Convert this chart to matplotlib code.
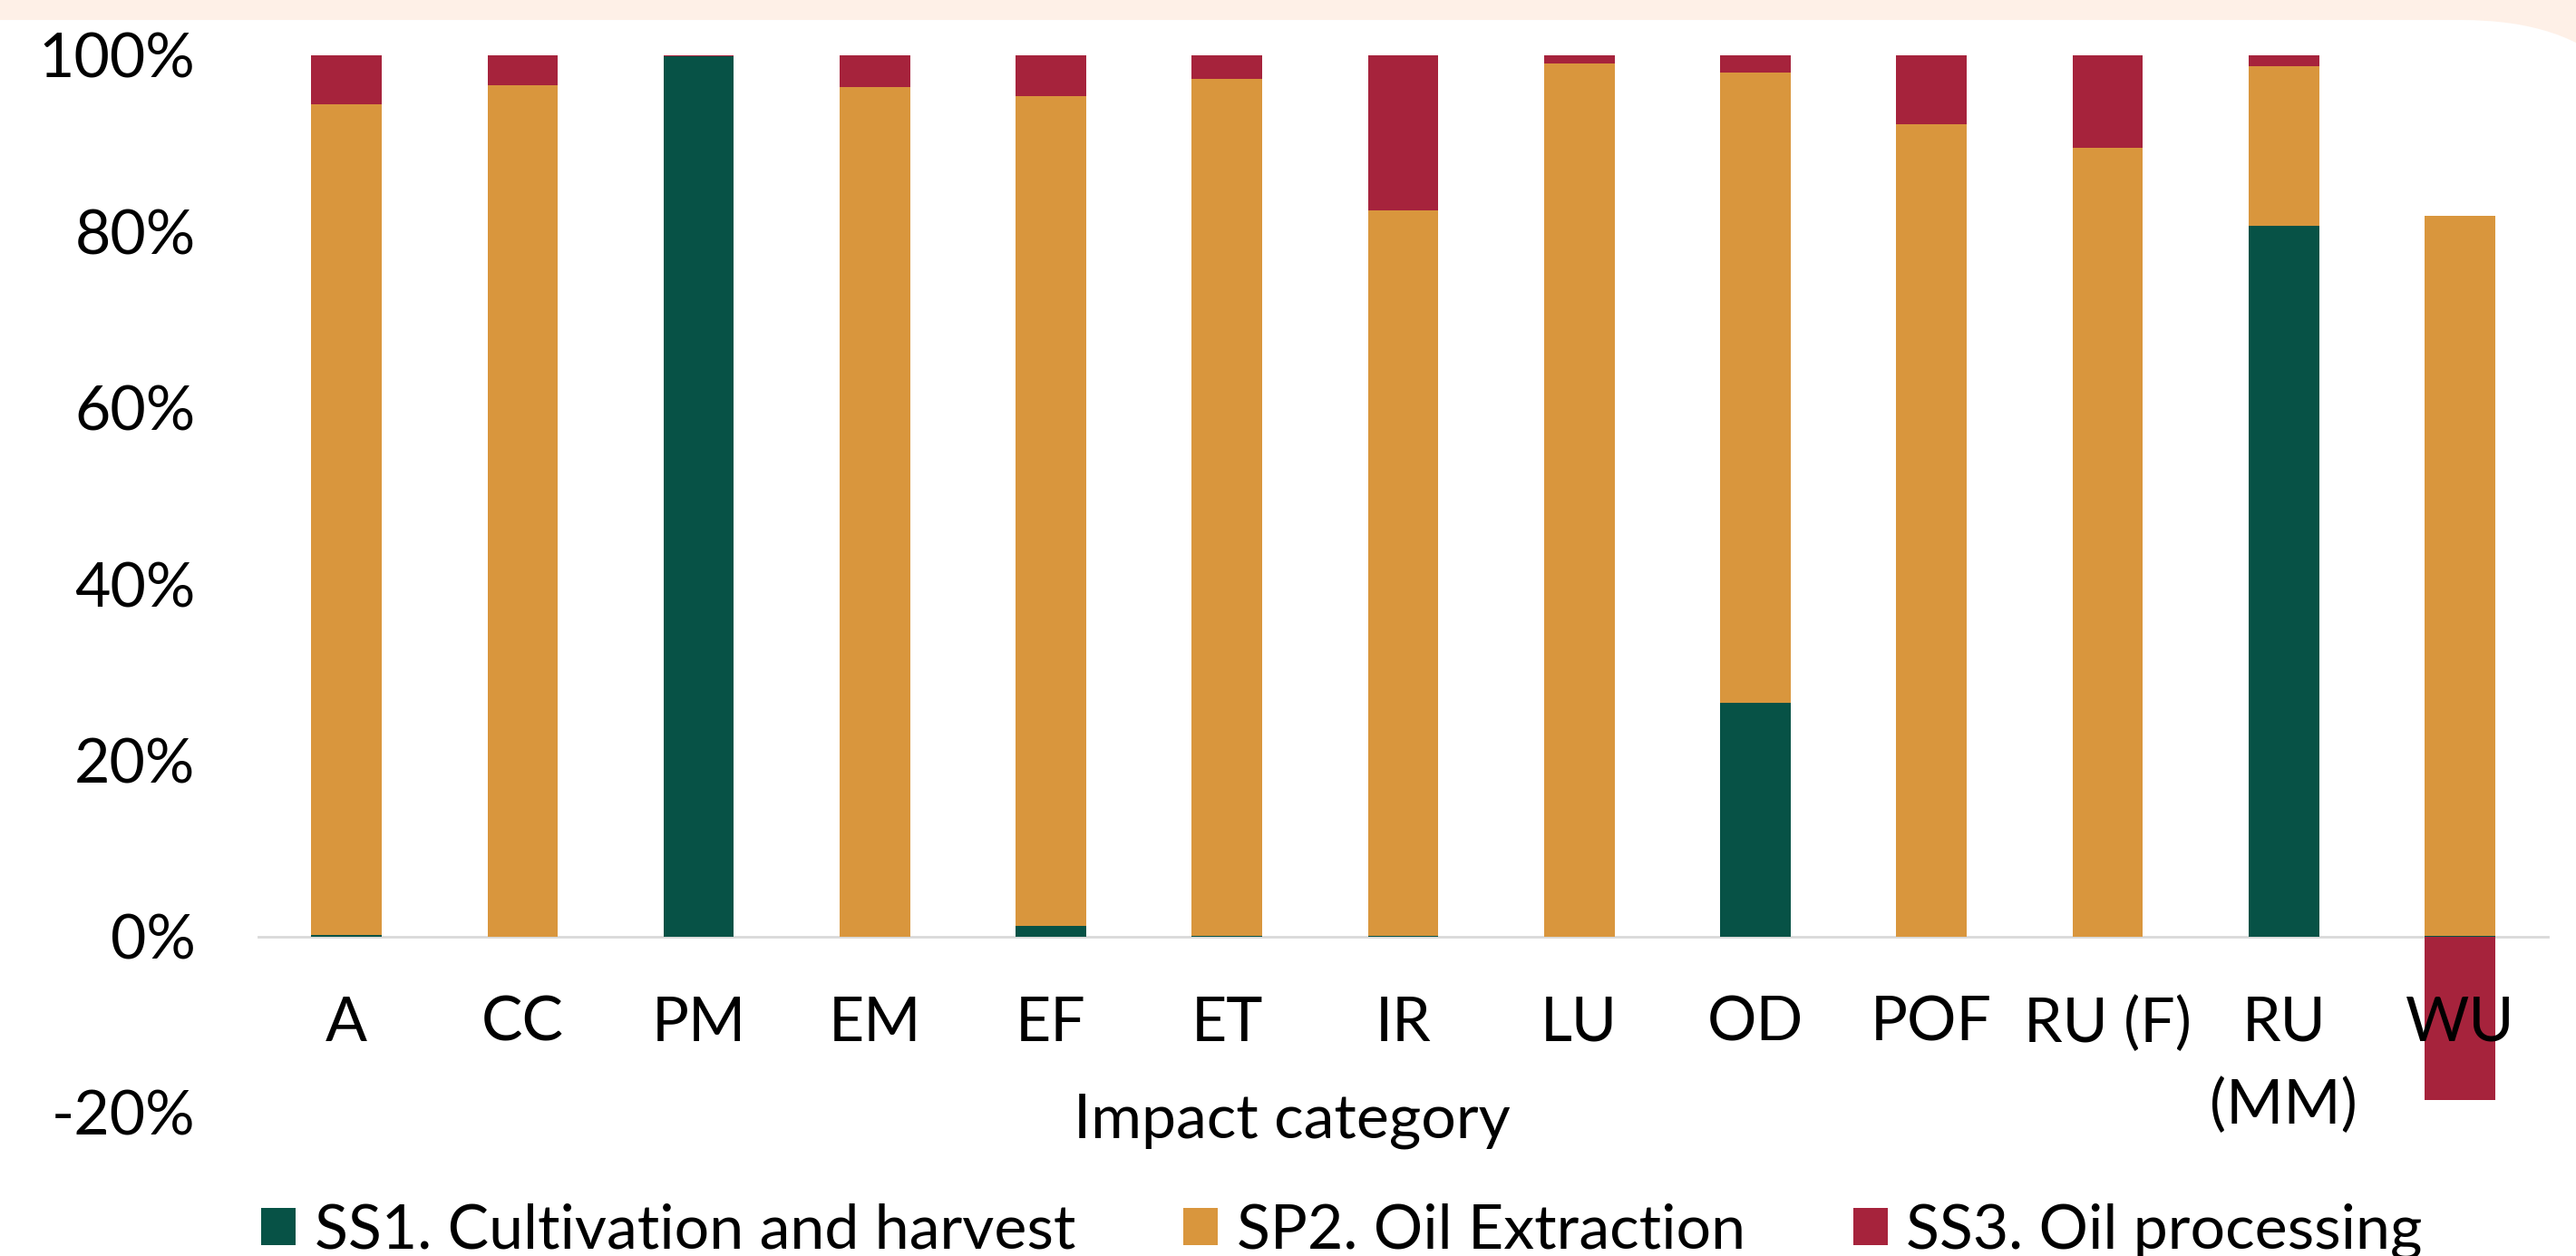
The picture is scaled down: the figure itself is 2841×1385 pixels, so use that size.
import numpy as np
import matplotlib
matplotlib.use("Agg")
import matplotlib.pyplot as plt
from matplotlib.patches import FancyBboxPatch
from matplotlib.ticker import FuncFormatter

plt.rcParams['font.family'] = ['Lato', 'DejaVu Sans']

# Data (shares of each impact category, in %)
categories = ["A", "CC", "PM", "EM", "EF", "ET", "IR", "LU", "OD", "POF",
              "RU (F)", "RU\n(MM)", "WU"]
ss1_cultivation = [0.2, 0.0, 99.9, 0.0, 1.2, 0.1, 0.1, 0.0, 26.5, 0.0, 0.0, 80.7, 0.1]
sp2_extraction = [94.2, 96.6, 0.0, 96.4, 94.2, 97.2, 82.3, 99.1, 71.5, 92.2, 89.5, 18.1, 81.7]
ss3_processing = [5.6, 3.4, 0.1, 3.6, 4.6, 2.7, 17.6, 0.9, 2.0, 7.8, 10.5, 1.2, -18.6]
series_names = ["SS1. Cultivation and harvest", "SP2. Oil Extraction", "SS3. Oil processing"]
series_colors = ["#075246", "#D9963D", "#A6233C"]
axis_title = "Impact category"

fig = plt.figure(figsize=(28.41, 13.85), dpi=100)
fig.patch.set_facecolor("white")

# peach rounded frame at the top
frame = FancyBboxPatch((-3, -3), 32.59, 16.845,
                       boxstyle="round,pad=0,rounding_size=2.445",
                       transform=fig.dpi_scale_trans, facecolor="white",
                       edgecolor="#FEF0E7", linewidth=31, zorder=-5)
fig.add_artist(frame)

ax = fig.add_axes([285 / 2841, 1 - 1227 / 1385, 2525 / 2841, 1166 / 1385])
ax.patch.set_alpha(0)

x = np.arange(len(categories))
pos_base = np.zeros(len(categories))
neg_base = np.zeros(len(categories))
handles = []
for vals, name, col in zip([ss1_cultivation, sp2_extraction, ss3_processing],
                           series_names, series_colors):
    v = np.array(vals) / 100.0
    bottom = np.where(v >= 0, pos_base, neg_base)
    h = ax.bar(x, v, 0.4, bottom=bottom, color=col, label=name, zorder=1)
    handles.append(h)
    pos_base = pos_base + np.where(v >= 0, v, 0)
    neg_base = neg_base + np.where(v < 0, v, 0)

ax.set_xlim(-0.5, len(categories) - 0.5)
ax.set_ylim(-0.2, 1.0)
ax.set_yticks(np.arange(-0.2, 1.01, 0.2))
ax.yaxis.set_major_formatter(FuncFormatter(lambda v, p: "%d%%" % round(v * 100)))

for s in ["left", "right", "top"]:
    ax.spines[s].set_visible(False)
ax.spines["bottom"].set_position(("data", 0))
ax.spines["bottom"].set_color("#D9D9D9")
ax.spines["bottom"].set_linewidth(2)
ax.spines["bottom"].set_zorder(0.5)

ax.set_xticks(x)
ax.set_xticklabels(categories, linespacing=1.55)
ax.tick_params(axis="x", length=0, pad=47, labelsize=49)
ax.tick_params(axis="y", length=0, pad=50, labelsize=49)
ax.xaxis.set_zorder(3)

fig.text(1425 / 2841, 1 - 1236 / 1385, axis_title, fontsize=49,
         ha="center", va="center")

fig.legend(handles=handles, labels=series_names, ncol=3, frameon=False,
           loc="center left", bbox_to_anchor=(288 / 2841, 1 - 1358 / 1385),
           fontsize=49, borderpad=0, borderaxespad=0,
           handlelength=0.56, handleheight=0.56, handletextpad=0.3,
           columnspacing=1.75)

fig.savefig("out.png", dpi=100, facecolor=fig.get_facecolor())
